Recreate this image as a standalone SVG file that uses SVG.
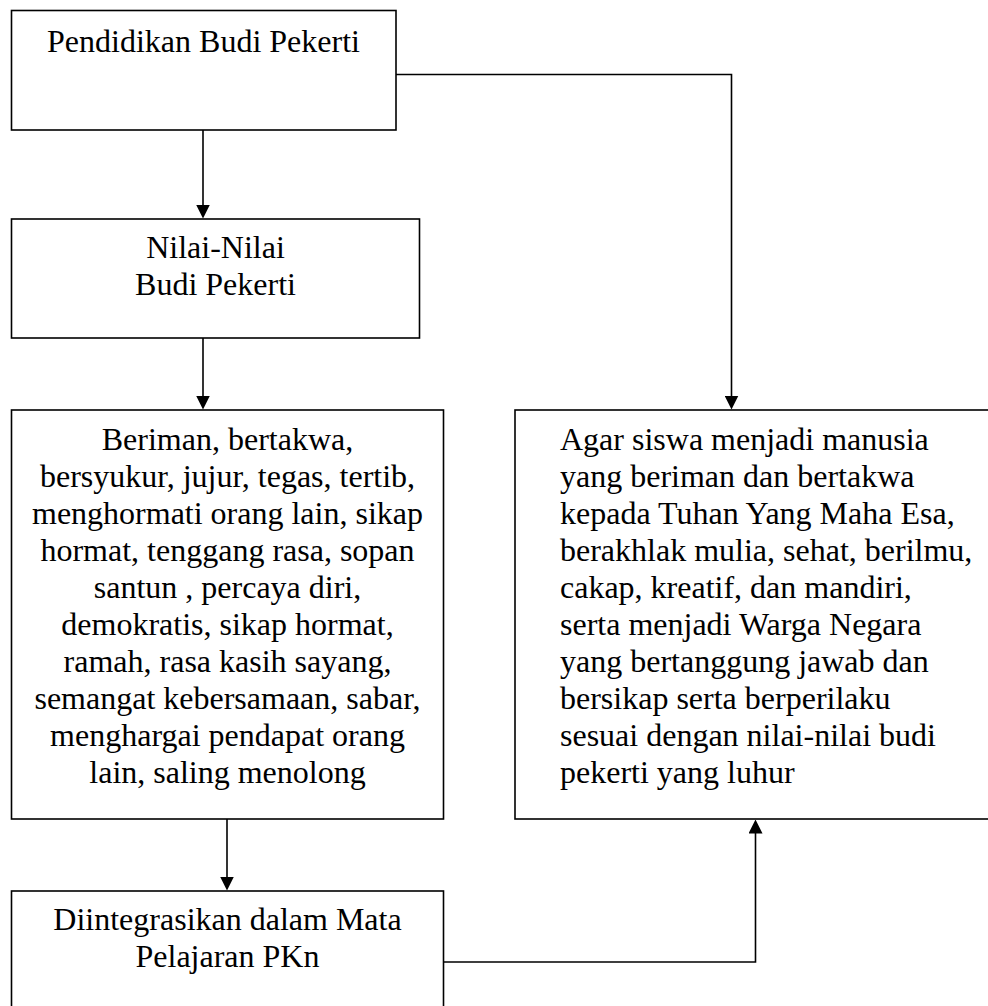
<svg xmlns="http://www.w3.org/2000/svg" width="988" height="1006" viewBox="0 0 988 1006">
<style>
.box{fill:#fff;stroke:#000;stroke-width:1.6}
.c{fill:none;stroke:#000;stroke-width:1.6}
text{font-family:"Liberation Serif","Times New Roman",serif;font-size:32px;fill:#000}
.m{text-anchor:middle}
</style>
<defs>
<marker id="ah" viewBox="0 0 14 14" refX="4" refY="7" markerWidth="14" markerHeight="14" markerUnits="userSpaceOnUse" orient="auto">
<path d="M0,0 L14,7 L0,14 z" fill="#000"/>
</marker>
</defs>
<rect width="988" height="1006" fill="#fff"/>
<g id="n1">
<rect class="box" x="11.5" y="10.5" width="384.5" height="119.5"/>
<text class="m" x="203.5" y="52">Pendidikan Budi Pekerti</text>
</g>
<g id="n2">
<rect class="box" x="11.5" y="219" width="408" height="119"/>
<text class="m" x="215.5" y="258">Nilai-Nilai</text>
<text class="m" x="215.5" y="295">Budi Pekerti</text>
</g>
<g id="n3">
<rect class="box" x="11.5" y="410" width="432" height="409"/>
<text class="m" x="227.5" y="450">Beriman, bertakwa,</text>
<text class="m" x="227.5" y="487">bersyukur, jujur, tegas, tertib,</text>
<text class="m" x="227.5" y="524">menghormati orang lain, sikap</text>
<text class="m" x="227.5" y="561">hormat, tenggang rasa, sopan</text>
<text class="m" x="227.5" y="598">santun , percaya diri,</text>
<text class="m" x="227.5" y="635">demokratis, sikap hormat,</text>
<text class="m" x="227.5" y="672">ramah, rasa kasih sayang,</text>
<text class="m" x="227.5" y="709">semangat kebersamaan, sabar,</text>
<text class="m" x="227.5" y="746">menghargai pendapat orang</text>
<text class="m" x="227.5" y="783">lain, saling menolong</text>
</g>
<g id="n4">
<rect class="box" x="11.5" y="891" width="432" height="130"/>
<text class="m" x="227.5" y="930">Diintegrasikan dalam Mata</text>
<text class="m" x="227.5" y="967">Pelajaran PKn</text>
</g>
<g id="n5">
<rect class="box" x="515" y="410" width="480" height="409"/>
<text x="560" y="450">Agar siswa menjadi manusia</text>
<text x="560" y="487">yang beriman dan bertakwa</text>
<text x="560" y="524">kepada Tuhan Yang Maha Esa,</text>
<text x="560" y="561">berakhlak mulia, sehat, berilmu,</text>
<text x="560" y="598">cakap, kreatif, dan mandiri,</text>
<text x="560" y="635">serta menjadi Warga Negara</text>
<text x="560" y="672">yang bertanggung jawab dan</text>
<text x="560" y="709">bersikap serta berperilaku</text>
<text x="560" y="746">sesuai dengan nilai-nilai budi</text>
<text x="560" y="783">pekerti yang luhur</text>
</g>
<g id="connectors">
<path class="c" d="M203,130 L203,208.5" marker-end="url(#ah)"/>
<path class="c" d="M203,338 L203,399.5" marker-end="url(#ah)"/>
<path class="c" d="M227,819 L227,880.5" marker-end="url(#ah)"/>
<path class="c" d="M396,74.5 L731.5,74.5 L731.5,399.5" marker-end="url(#ah)"/>
<path class="c" d="M443.5,962 L755.5,962 L755.5,829.5" marker-end="url(#ah)"/>
</g>
</svg>
